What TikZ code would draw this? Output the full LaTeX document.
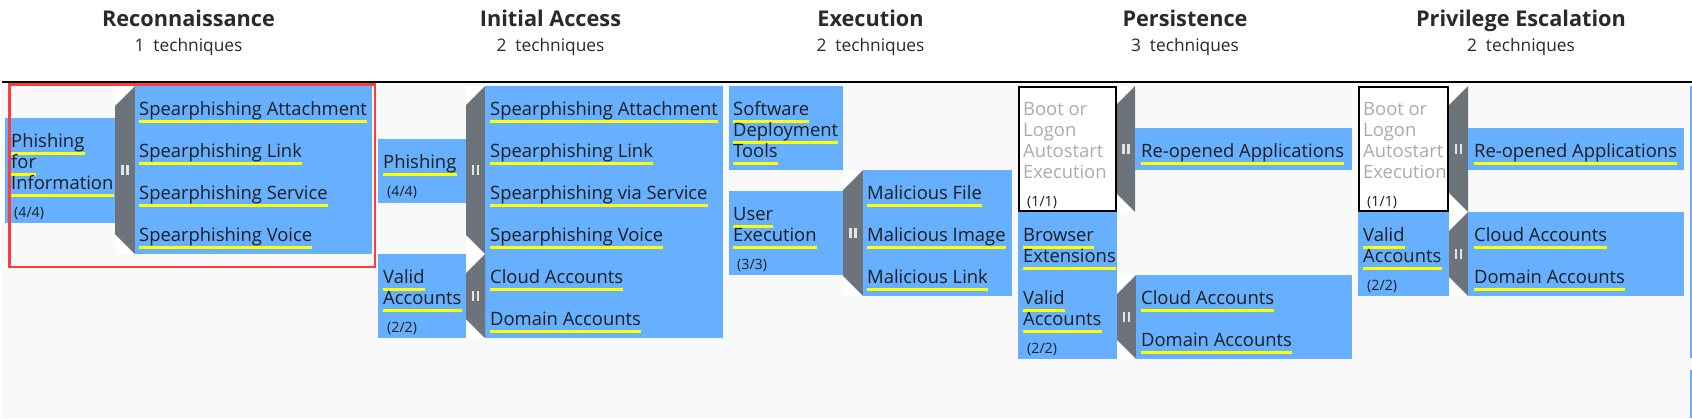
\documentclass[tikz,border=0pt]{standalone}
\usepackage{fontspec}
\setmainfont{Open Sans}
\usetikzlibrary{calc}
\definecolor{tblue}{HTML}{66B0FF}
\definecolor{wgray}{HTML}{6C737A}
\definecolor{bggray}{HTML}{F9F9F9}
\definecolor{txtc}{HTML}{1E1E1E}
\definecolor{ttlc}{HTML}{2A2A2A}
\definecolor{dis}{HTML}{ABABAB}
\definecolor{redf}{HTML}{FF3B3B}
\definecolor{uyel}{HTML}{FFFF00}
\definecolor{barc}{HTML}{E4E4E4}
\pgfdeclarelayer{bg}
\pgfdeclarelayer{ul}
\pgfsetlayers{bg,ul,main}
\tikzset{
  lbl/.style={inner sep=0pt, anchor=base west, text=txtc, font=\fontsize{18.4}{21}\selectfont},
  cnt/.style={inner sep=0pt, anchor=base west, text=txtc, font=\fontsize{14.2}{16}\selectfont},
  ttl/.style={inner sep=0pt, anchor=base, text=ttlc, font=\fontsize{21.7}{24}\selectfont\bfseries},
  subttl/.style={inner sep=0pt, anchor=base, text=ttlc, font=\fontsize{17.33}{20}\selectfont},
  uline/.style={draw=uyel, line width=3pt},
}
\newcommand\ul[1]{\begin{pgfonlayer}{ul}\draw[uline] ([yshift=-6.4pt]#1.base west) -- ([yshift=-6.4pt]#1.base east);\end{pgfonlayer}}
\newcommand\tx[4]{\node[lbl] (#1) at (#2,#3) {#4};\ul{#1}}
\newcommand\gx[4]{\node[lbl,text=dis] (#1) at (#2,#3) {#4};}
\newcommand\cn[4]{\node[cnt] (#1) at (#2,#3) {#4};}
\newcommand\bx[4]{\begin{pgfonlayer}{bg}\fill[tblue] (#1,#2) rectangle (#3,#4);\end{pgfonlayer}}
\newcommand\wdg[4]{\begin{pgfonlayer}{bg}\fill[white] (#1,#3) rectangle (#2,#4);
  \pgfmathsetmacro\ww{#2-#1}%
  \fill[wgray] (#1,#3+\ww) -- (#2,#3) -- (#2,#4) -- (#1,#4-\ww) -- cycle;
  \pgfmathsetmacro\cx{(#1+#2)/2}\pgfmathsetmacro\cy{(#3+#4)/2}%
  \fill[barc] (\cx-3.6,\cy-5) rectangle (\cx-1.2,\cy+5);
  \fill[barc] (\cx+1.2,\cy-5) rectangle (\cx+3.6,\cy+5);\end{pgfonlayer}}
\begin{document}
\begin{tikzpicture}[x=1pt,y=-1pt]
\useasboundingbox (0,0) rectangle (1692,418);
\begin{pgfonlayer}{bg}
\fill[white] (0,0) rectangle (1692,418);
\fill[bggray] (2,83) rectangle (1692,418);
\draw[black, line width=2pt] (2,82) -- (1692,82);
\end{pgfonlayer}
% headers
\node[ttl] (h1) at (188.5,26) {Reconnaissance};
\node[subttl] (s1) at (188.5,51) {1~~techniques};
\node[ttl] (h2) at (550.5,26) {Initial Access};
\node[subttl] (s2) at (550.5,51) {2~~techniques};
\node[ttl] (h3) at (870.5,26) {Execution};
\node[subttl] (s3) at (870.5,51) {2~~techniques};
\node[ttl] (h4) at (1185,26) {Persistence};
\node[subttl] (s4) at (1185,51) {3~~techniques};
\node[ttl] (h5) at (1521,26) {Privilege Escalation};
\node[subttl] (s5) at (1521,51) {2~~techniques};
% column 1
\bx{5}{118}{115}{223}
\wdg{115}{135}{86}{254}
\bx{135}{86}{372}{254}
\tx{a1}{11}{147}{Phishing}
\tx{a2}{11}{168}{for}
\tx{a3}{11}{189}{Information}
\cn{a4}{14}{217}{(4/4)}
\tx{a5}{139}{115}{Spearphishing Attachment}
\tx{a6}{139}{157}{Spearphishing Link}
\tx{a7}{139}{199}{Spearphishing Service}
\tx{a8}{139}{241}{Spearphishing Voice}
\draw[redf, line width=2.7pt] (9.7,84.4) rectangle (375,267);
% column 2
\bx{378}{139}{466}{203}
\wdg{466}{485}{86}{254}
\bx{485}{86}{723}{338}
\tx{b1}{383}{168}{Phishing}
\cn{b2}{387}{196}{(4/4)}
\tx{b3}{490}{115}{Spearphishing Attachment}
\tx{b4}{490}{157}{Spearphishing Link}
\tx{b5}{490}{199}{Spearphishing via Service}
\tx{b6}{490}{241}{Spearphishing Voice}
\bx{378}{254}{466}{338}
\wdg{466}{485}{254}{338}
\tx{b7}{383}{283}{Valid}
\tx{b8}{383}{304}{Accounts}
\cn{b9}{387}{332}{(2/2)}
\tx{b10}{490}{283}{Cloud Accounts}
\tx{b11}{490}{325}{Domain Accounts}
% column 3
\bx{729}{86}{843}{170}
\tx{c1}{733}{115}{Software}
\tx{c2}{733}{136}{Deployment}
\tx{c3}{733}{157}{Tools}
\bx{729}{191}{843}{275}
\wdg{843}{863}{170}{296}
\bx{863}{170}{1012}{296}
\tx{c4}{733}{220}{User}
\tx{c5}{733}{241}{Execution}
\cn{c6}{737}{269}{(3/3)}
\tx{c7}{867}{199}{Malicious File}
\tx{c8}{867}{241}{Malicious Image}
\tx{c9}{867}{283}{Malicious Link}
% column 4
\begin{pgfonlayer}{bg}\fill[white] (1018,86) rectangle (1117,212);\end{pgfonlayer}
\draw[black, line width=1.7pt] (1018.9,86.9) rectangle (1116.1,211.1);
\gx{d1}{1023}{115}{Boot or}
\gx{d2}{1023}{136}{Logon}
\gx{d3}{1023}{157}{Autostart}
\gx{d4}{1023}{178}{Execution}
\cn{d5}{1027}{206}{(1/1)}
\wdg{1117}{1135}{86}{212}
\bx{1135}{128}{1352}{170}
\tx{d6}{1141}{157}{Re-opened Applications}
\bx{1018}{212}{1117}{275}
\tx{d7}{1023}{241}{Browser}
\tx{d8}{1023}{262}{Extensions}
\bx{1018}{275}{1117}{359}
\tx{d9}{1023}{304}{Valid}
\tx{d10}{1023}{325}{Accounts}
\cn{d11}{1027}{353}{(2/2)}
\wdg{1117}{1136}{275}{359}
\bx{1136}{275}{1352}{359}
\tx{d12}{1141}{304}{Cloud Accounts}
\tx{d13}{1141}{346}{Domain Accounts}
% column 5
\begin{pgfonlayer}{bg}\fill[white] (1358,86) rectangle (1449,212);\end{pgfonlayer}
\draw[black, line width=1.7pt] (1358.9,86.9) rectangle (1448.1,211.1);
\gx{e1}{1363}{115}{Boot or}
\gx{e2}{1363}{136}{Logon}
\gx{e3}{1363}{157}{Autostart}
\gx{e4}{1363}{178}{Execution}
\cn{e5}{1367}{206}{(1/1)}
\wdg{1449}{1468}{86}{212}
\bx{1468}{128}{1684}{170}
\tx{e6}{1474}{157}{Re-opened Applications}
\bx{1358}{212}{1449}{296}
\tx{e7}{1363}{241}{Valid}
\tx{e8}{1363}{262}{Accounts}
\cn{e9}{1367}{290}{(2/2)}
\wdg{1449}{1468}{212}{296}
\bx{1468}{212}{1684}{296}
\tx{e10}{1474}{241}{Cloud Accounts}
\tx{e11}{1474}{283}{Domain Accounts}
% cut-off next column
\bx{1690}{86}{1692}{358}
\bx{1690}{370}{1692}{418}
\end{tikzpicture}
\end{document}
